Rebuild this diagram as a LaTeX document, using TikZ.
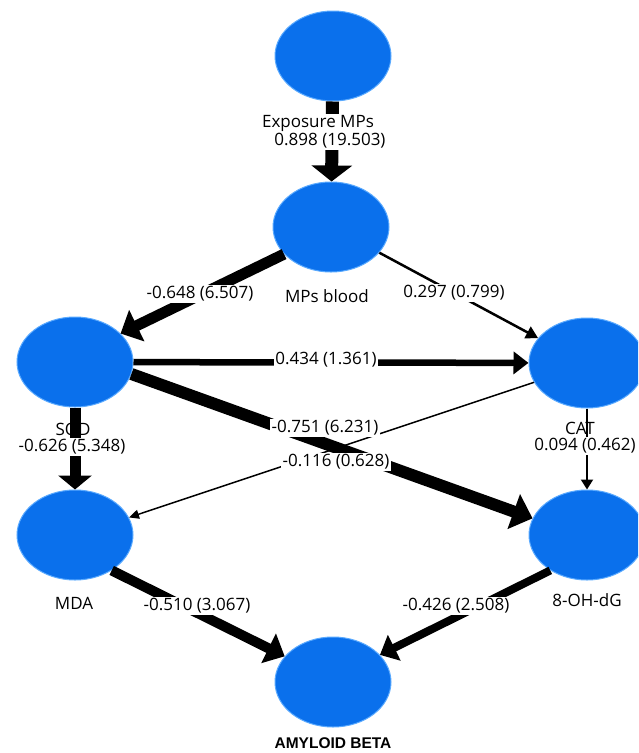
\documentclass[tikz,border=0pt]{standalone}
\usepackage{fontspec}
\setmainfont{Open Sans}
\newfontfamily\arialbold{Liberation Sans}
\usetikzlibrary{arrows.meta,shapes.geometric}
\definecolor{lvblue}{RGB}{10,112,236}
\definecolor{lvrim}{RGB}{90,170,255}
\begin{document}
\begin{tikzpicture}[x=1pt,y=-1pt,
  lv/.style={ellipse,fill=lvblue,draw=lvrim,line width=1pt,minimum width=116pt,minimum height=90pt,inner sep=0pt},
  nm/.style={font=\fontsize{17}{19}\selectfont,inner sep=1pt},
  lbl/.style={font=\fontsize{17}{19}\selectfont,fill=white,inner sep=1.5pt},
  pth/.style n args={3}{draw=black,line width=#1,-{Triangle[length=#2,width=#3]}}
]
\clip (0,0) rectangle (638,753);
\fill[white] (0,0) rectangle (638,753);
% constructs
\node[lv] (exp) at (333,56) {};
\node[lv] (blood) at (331,227) {};
\node[lv] (sod) at (75,362) {};
\node[lv] (cat) at (587,363) {};
\node[lv] (mda) at (75,535) {};
\node[lv] (ohdg) at (587,535) {};
\node[lv] (amy) at (333,682) {};
% paths
\draw[pth={13pt}{16pt}{40pt}] (exp) -- (blood);
\draw[pth={11pt}{18pt}{34pt}] (blood.210) -- (sod.32);
\draw[pth={2.5pt}{12pt}{13pt}] (blood.-28) -- (cat.153);
\draw[pth={6.5pt}{15pt}{22pt}] (sod) -- (cat);
\draw[pth={12pt}{20pt}{36pt}] (sod.-12) -- (ohdg.163);
\draw[pth={1.5pt}{10pt}{9pt}] (cat.200) -- (mda.18);
\draw[pth={11pt}{14pt}{33pt}] (sod) -- (mda);
\draw[pth={2pt}{10pt}{12pt}] (cat) -- (ohdg);
\draw[pth={10pt}{18pt}{32pt}] (mda.-44) -- (amy.152);
\draw[pth={8pt}{16pt}{28pt}] (ohdg.224) -- (amy.30);
% construct names
\node[nm,fill=white] (lexp) at (318,123) {Exposure MPs};
\node[nm] (lblood) at (327,296) {MPs blood};
\node[nm] (lsod) at (73,429) {SOD};
\node[nm] (lcat) at (580,428) {CAT};
\node[nm] (lmda) at (74,603) {MDA};
\node[nm] (lohdg) at (587,600) {8-OH-dG};
\node[font=\arialbold\bfseries\fontsize{15.5}{17}\selectfont,inner sep=1pt] (lamy) at (333,743) {AMYLOID BETA};
% coefficients
\node[lbl] (c1) at (330,141) {0.898 (19.503)};
\node[lbl] (c2) at (200,294) {-0.648 (6.507)};
\node[lbl] (c3) at (454,293) {0.297 (0.799)};
\node[lbl] (c4) at (326,360) {0.434 (1.361)};
\node[lbl] (c5) at (325,428) {-0.751 (6.231)};
\node[lbl] (c6) at (336,462) {-0.116 (0.628)};
\node[lbl] (c7) at (72,447) {-0.626 (5.348)};
\node[lbl] (c8) at (585,446) {0.094 (0.462)};
\node[lbl] (c9) at (197,606) {-0.510 (3.067)};
\node[lbl] (c10) at (456,606) {-0.426 (2.508)};
\end{tikzpicture}
\end{document}
